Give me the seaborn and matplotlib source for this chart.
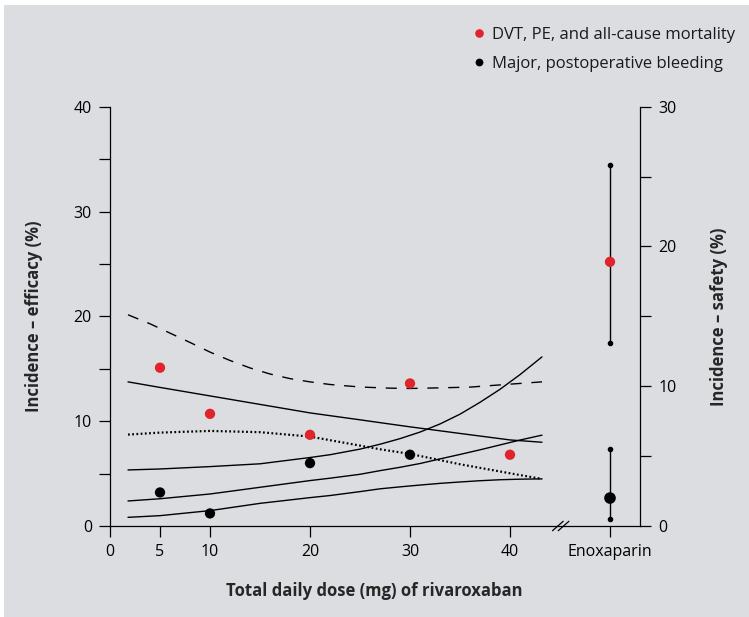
import numpy as np
import pandas as pd
import matplotlib.pyplot as plt
from matplotlib.lines import Line2D
from matplotlib.patches import Rectangle
import seaborn as sns

# observed incidences per rivaroxaban dose
doses_eff = [5, 10, 20, 30, 40]
efficacy = [15.1, 10.7, 8.7, 13.6, 6.8]      # DVT, PE, all-cause mortality (%)
doses_saf = [5, 10, 20, 30]
safety = [2.4, 0.9, 4.5, 5.1]                # major postoperative bleeding (%)

# enoxaparin comparator: estimate, lower, upper
enox_eff = [25.2, 17.5, 34.4]
enox_saf = [2.0, 0.5, 5.5]

# fitted curves
fit_x = [1.8, 5, 10, 15, 20, 25, 27, 30, 35, 40, 43.2]
eff_fit = [13.75, 13.22, 12.41, 11.6, 10.79, 10.13, 9.86, 9.46, 8.83, 8.21, 7.99]
eff_low = [8.72, 8.91, 9.07, 8.95, 8.53, 7.67, 7.32, 6.88, 5.89, 5.03, 4.49]
up_x = [1.8, 4, 6, 8, 10, 12, 14, 16, 18, 20, 22, 25, 28, 30, 33, 36, 40, 43.2]
eff_up = [20.15, 19.29, 18.4, 17.51, 16.59, 15.79, 15.08, 14.5, 14.06, 13.75,
          13.5, 13.26, 13.15, 13.12, 13.18, 13.25, 13.53, 13.75]

saf_x = [1.8, 5, 10, 15, 20, 22, 25, 27, 29, 31, 33, 35, 37, 39, 41, 43.2]
saf_up = [4.01, 4.08, 4.25, 4.45, 4.9, 5.1, 5.5, 5.85, 6.25, 6.72, 7.3, 8.0,
          8.85, 9.78, 10.83, 12.1]
saf_fit = [1.79, 1.95, 2.29, 2.77, 3.25, 3.42, 3.7, 3.96, 4.2, 4.47, 4.8, 5.12,
           5.45, 5.8, 6.15, 6.5]
saf_low = [0.62, 0.74, 1.10, 1.62, 2.03, 2.18, 2.46, 2.66, 2.8, 2.93, 3.05, 3.15,
           3.24, 3.31, 3.35, 3.37]

xticks = [0, 5, 10, 20, 30, 40, 50]
xticklabels = ['0', '5', '10', '20', '30', '40', 'Enoxaparin']
ENOX_X = 50

RED = '#e0242b'
BG = '#dcdde0'

sns.set_style('ticks')
plt.rcParams['font.family'] = ['Open Sans', 'DejaVu Sans']
plt.rcParams['font.size'] = 11.5
plt.rcParams['axes.edgecolor'] = 'black'
plt.rcParams['xtick.color'] = 'black'
plt.rcParams['ytick.color'] = 'black'
plt.rcParams['text.color'] = '#1a1a1a'

fig = plt.figure(figsize=(7.49, 6.17), dpi=100, facecolor='white')
fig.patches.append(Rectangle((4 / 749, 0), 1, 1 - 5 / 617, transform=fig.transFigure,
                             facecolor=BG, edgecolor='none', zorder=-10))
ax = fig.add_axes([110 / 749, 91 / 617, 530 / 749, 419.3 / 617])
ax.set_facecolor(BG)
ax.patch.set_visible(False)
ax2 = ax.twinx()

# efficacy curves
sns.lineplot(x=fit_x, y=eff_fit, ax=ax, color='black', lw=1.0, estimator=None, sort=False)
sns.lineplot(x=fit_x, y=eff_low, ax=ax, color='black', lw=1.6, estimator=None, sort=False,
             dashes=False, linestyle=(0, (0.8, 1.1)))
sns.lineplot(x=up_x, y=eff_up, ax=ax, color='black', lw=1.0, estimator=None, sort=False,
             linestyle=(0, (8, 7)))

# safety curves
for ys in (saf_up, saf_fit, saf_low):
    sns.lineplot(x=saf_x, y=ys, ax=ax2, color='black', lw=1.0, estimator=None, sort=False)

# points
sns.scatterplot(x=doses_eff, y=efficacy, ax=ax, color=RED, s=55, edgecolor='none', zorder=5)
sns.scatterplot(x=doses_saf, y=safety, ax=ax2, color='black', s=55, edgecolor='none', zorder=5)

# enoxaparin with ranges
ax.plot([ENOX_X, ENOX_X], enox_eff[1:], color='black', lw=1.0, zorder=4)
ax.scatter([ENOX_X, ENOX_X], enox_eff[1:], color='black', s=9, zorder=5)
ax.scatter([ENOX_X], [enox_eff[0]], color=RED, s=55, edgecolor='none', zorder=6)
ax2.plot([ENOX_X, ENOX_X], enox_saf[1:], color='black', lw=1.0, zorder=4)
ax2.scatter([ENOX_X, ENOX_X], enox_saf[1:], color='black', s=9, zorder=5)
ax2.scatter([ENOX_X], [enox_saf[0]], color='black', s=70, edgecolor='none', zorder=6)

# axes
ax.set_xlim(0, 53)
ax.set_ylim(0, 40)
ax2.set_ylim(0, 30)
ax.set_xticks(xticks)
ax.set_xticklabels(xticklabels)
ax.set_yticks([0, 10, 20, 30, 40])
ax.set_yticks([5, 15, 25, 35], minor=True)
ax2.set_yticks([0, 10, 20, 30])
ax2.set_yticks([5, 15, 25], minor=True)
for a in (ax, ax2):
    a.tick_params(which='both', direction='out', length=8, width=0.9, pad=5, labelsize=11.5)
    a.spines['top'].set_visible(False)
    for s in a.spines.values():
        s.set_linewidth(0.9)
ax.spines['right'].set_visible(False)
ax2.spines['left'].set_visible(False)
ax2.spines['bottom'].set_visible(False)

# axis break marks
for x0 in (44.25, 44.82):
    ax.plot([x0, x0 + 1.07], [-0.45, 0.45], color='black', lw=0.9, clip_on=False, zorder=7)

ax.set_xlabel('Total daily dose (mg) of rivaroxaban', fontweight='bold', fontsize=12)
ax.xaxis.set_label_coords((374 - 110) / 530, (526 - 591.5) / 419.3)
ax.xaxis.label.set_va('center')
ax.set_ylabel('Incidence – efficacy (%)', fontweight='bold', fontsize=12)
ax.yaxis.set_label_coords((34 - 110) / 530, 0.5)
ax.yaxis.label.set_va('center')
ax2.set_ylabel('Incidence – safety (%)', fontweight='bold', fontsize=12)
ax2.yaxis.set_label_coords((719 - 110) / 530, 0.5)
ax2.yaxis.label.set_va('center')

handles = [Line2D([], [], ls='none', marker='o', color=RED, markersize=6.2, markeredgewidth=0),
           Line2D([], [], ls='none', marker='o', color='black', markersize=5.6, markeredgewidth=0)]
fig.legend(handles, ['DVT, PE, and all-cause mortality', 'Major, postoperative bleeding'],
           loc='upper left', bbox_to_anchor=(474 / 749, 1 - 27 / 617), frameon=False,
           handlelength=0.6, handletextpad=0.45, borderpad=0, borderaxespad=0,
           labelspacing=0.75, fontsize=12)

fig.savefig('out.png', dpi=100, facecolor='white')
